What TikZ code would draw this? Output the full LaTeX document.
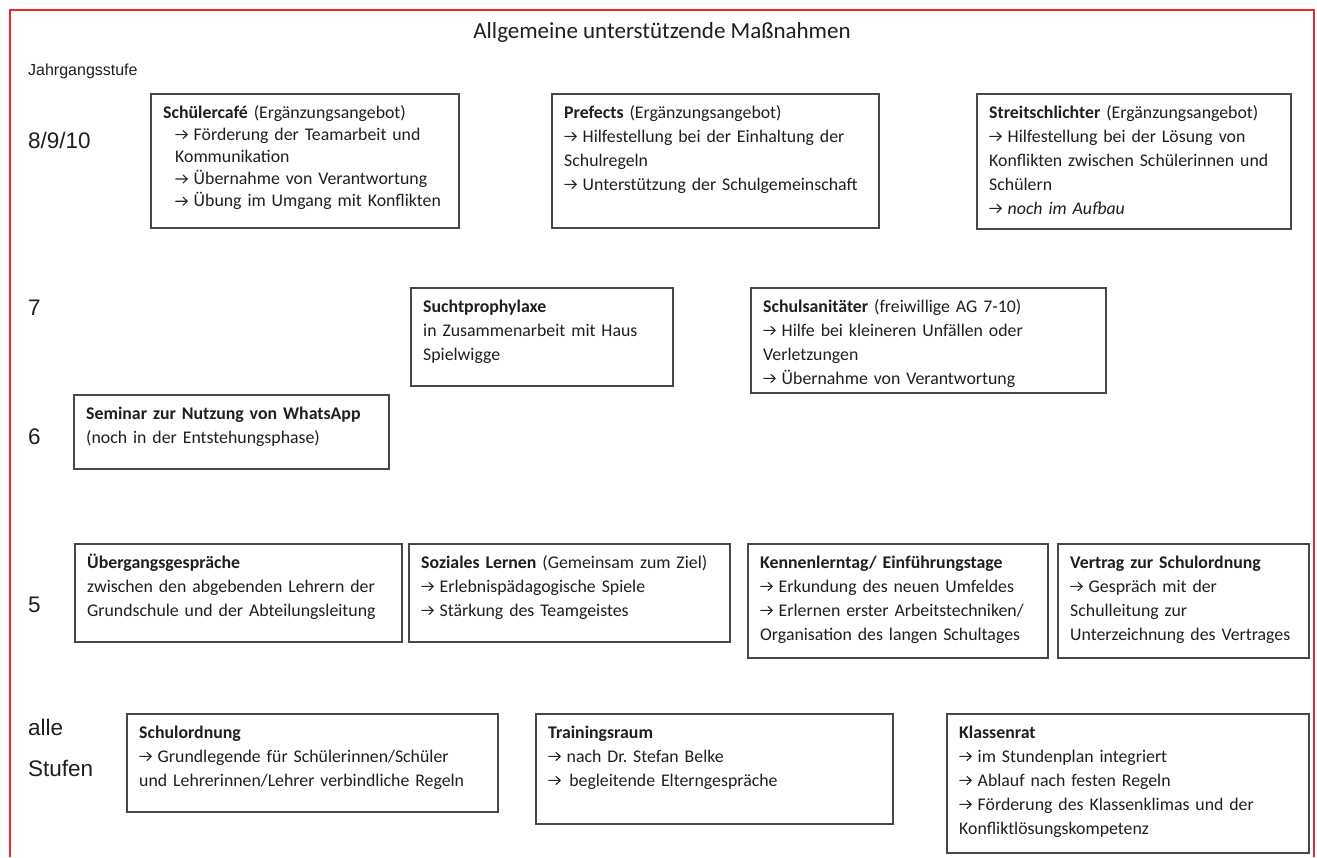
\documentclass[tikz,border=0pt]{standalone}
\usepackage{fontspec}
\usepackage{graphicx}
\setmainfont{Carlito}
\newfontfamily\arialfont{Liberation Sans}
\newcommand\boxfont{\fontsize{17.8}{24}\selectfont\frenchspacing}
\newcommand\cafefont{\fontsize{17.8}{22.2}\selectfont\frenchspacing}
\newcommand\arr{\tikz[baseline=0pt]{\draw[black!85, line width=1.1pt, line cap=round, line join=round] (0.5pt,5.6pt) -- (12pt,5.6pt) (7.8pt,9.6pt) -- (12pt,5.6pt) -- (7.8pt,1.6pt);}}
\definecolor{redline}{RGB}{235,40,40}
\begin{document}
\begin{tikzpicture}[x=1pt,y=-1pt]
\tikzset{
  box/.style={draw=black!72, line width=1.5pt, rectangle, inner sep=0pt, anchor=north west},
  txt/.style={anchor=base west, inner sep=0pt, text width=#1, align=left, font=\boxfont, text=black!88, xshift=13pt, yshift=-25pt},
  lab/.style={anchor=base west, inner sep=0pt, font=\arialfont\fontsize{22.5}{26}\selectfont, text=black!88},
}
\useasboundingbox (0,0) rectangle (1317,857);
\fill[white] (0,0) rectangle (1317,857);
% red frame
\coordinate (rbl) at (10,857);
\coordinate (rtl) at (10,10);
\coordinate (rtr) at (1314,10);
\coordinate (rbr) at (1314,857);
\draw[redline, line width=1.4pt] (rbl) -- (rtl) -- (rtr) -- (rbr);

% title
\node[anchor=base, inner sep=0pt, font=\fontsize{23}{26}\selectfont, text=black!88] (title) at (662,38) {Allgemeine unterstützende Maßnahmen};

% labels
\node[lab, font=\arialfont\fontsize{16}{18}\selectfont] (jg) at (28,75) {Jahrgangsstufe};
\node[lab] (l8) at (28,148) {8/9/10};
\node[lab] (l7) at (28,315) {7};
\node[lab] (l6) at (28,444) {6};
\node[lab] (l5) at (28,612) {5};
\node[lab] (la) at (28,735) {alle};
\node[lab] (ls) at (28,776) {Stufen};

% row 8/9/10
\node[box, minimum width=308, minimum height=134] (b1) at (150,93) {};
\node[txt=300pt, font=\cafefont] (t1) at (b1.north west) {\textbf{Schülercafé} (Ergänzungsangebot)\\
\hspace*{12pt}\arr{} Förderung der Teamarbeit und\\
\hspace*{12pt}Kommunikation\\
\hspace*{12pt}\arr{} Übernahme von Verantwortung\\
\hspace*{12pt}\arr{} Übung im Umgang mit Konflikten};

\node[box, minimum width=327, minimum height=134] (b2) at (551,93) {};
\node[txt=320pt] (t2) at (b2.north west) {\textbf{Prefects} (Ergänzungsangebot)\\
\arr{} Hilfestellung bei der Einhaltung der\\
Schulregeln\\
\arr{} Unterstützung der Schulgemeinschaft};

\node[box, minimum width=314, minimum height=135] (b3) at (976,93) {};
\node[txt=305pt] (t3) at (b3.north west) {\textbf{Streitschlichter} (Ergänzungsangebot)\\
\arr{} Hilfestellung bei der Lösung von\\
Konflikten zwischen Schülerinnen und\\
Schülern\\
\arr{} \textit{noch im Aufbau}};

% row 7
\node[box, minimum width=262, minimum height=98] (b4) at (410,287) {};
\node[txt=255pt] (t4) at (b4.north west) {\textbf{Suchtprophylaxe}\\
in Zusammenarbeit mit Haus\\
Spielwigge};

\node[box, minimum width=355, minimum height=105] (b5) at (750,287) {};
\node[txt=345pt] (t5) at (b5.north west) {\textbf{Schulsanitäter} (freiwillige AG 7-10)\\
\arr{} Hilfe bei kleineren Unfällen oder\\
Verletzungen\\
\arr{} Übernahme von Verantwortung};

% row 6
\node[box, minimum width=315, minimum height=74] (b6) at (73,394) {};
\node[txt=305pt] (t6) at (b6.north west) {\textbf{Seminar zur Nutzung von WhatsApp}\\
(noch in der Entstehungsphase)};

% row 5
\node[box, minimum width=327, minimum height=98] (b7) at (74,543) {};
\node[txt=320pt] (t7) at (b7.north west) {\textbf{Übergangsgespräche}\\
zwischen den abgebenden Lehrern der\\
Grundschule und der Abteilungsleitung};

\node[box, minimum width=321, minimum height=98] (b8) at (408,543) {};
\node[txt=315pt] (t8) at (b8.north west) {\textbf{Soziales Lernen} (Gemeinsam zum Ziel)\\
\arr{} Erlebnispädagogische Spiele\\
\arr{} Stärkung des Teamgeistes};

\node[box, minimum width=300, minimum height=114] (b9) at (747,543) {};
\node[txt=295pt] (t9) at (b9.north west) {\textbf{Kennenlerntag/ Einführungstage}\\
\arr{} Erkundung des neuen Umfeldes\\
\arr{} Erlernen erster Arbeitstechniken/\\
Organisation des langen Schultages};

\node[box, minimum width=251, minimum height=114] (b10) at (1057,543) {};
\node[txt=245pt] (t10) at (b10.north west) {\textbf{Vertrag zur Schulordnung}\\
\arr{} Gespräch mit der\\
Schulleitung zur\\
Unterzeichnung des Vertrages};

% row alle Stufen
\node[box, minimum width=371, minimum height=98] (b11) at (126,713) {};
\node[txt=365pt] (t11) at (b11.north west) {\textbf{Schulordnung}\\
\arr{} Grundlegende für Schülerinnen/Schüler\\
und Lehrerinnen/Lehrer verbindliche Regeln};

\node[box, minimum width=357, minimum height=110] (b12) at (535,713) {};
\node[txt=350pt] (t12) at (b12.north west) {\textbf{Trainingsraum}\\
\arr{} nach Dr. Stefan Belke\\
\arr{}\hspace{8.5pt}begleitende Elterngespräche};

\node[box, minimum width=362, minimum height=139] (b13) at (946,713) {};
\node[txt=355pt] (t13) at (b13.north west) {\textbf{Klassenrat}\\
\arr{} im Stundenplan integriert\\
\arr{} Ablauf nach festen Regeln\\
\arr{} Förderung des Klassenklimas und der\\
Konfliktlösungskompetenz};
\end{tikzpicture}
\end{document}
